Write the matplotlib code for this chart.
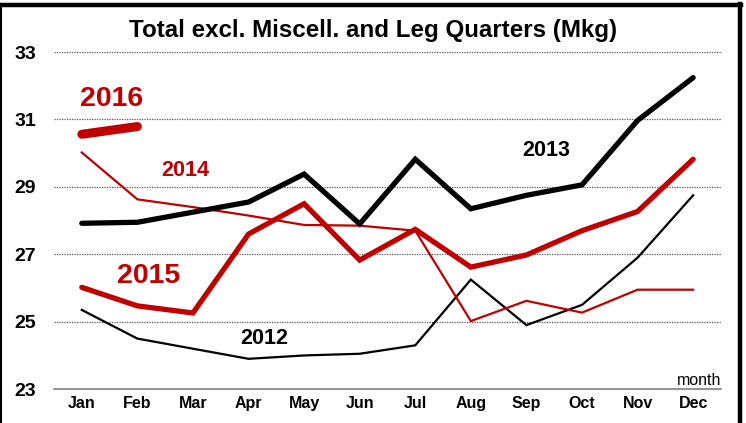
import matplotlib
matplotlib.use("Agg")
import matplotlib.pyplot as plt
from matplotlib.lines import Line2D

plt.rcParams['font.family'] = ['Liberation Sans', 'DejaVu Sans']

months = ["Jan", "Feb", "Mar", "Apr", "May", "Jun", "Jul", "Aug", "Sep", "Oct", "Nov", "Dec"]
y2012 = [25.35, 24.5, 24.2, 23.9, 24.0, 24.05, 24.3, 26.25, 24.9, 25.5, 26.9, 28.75]
y2013 = [27.92, 27.95, 28.25, 28.55, 29.38, 27.9, 29.82, 28.35, 28.75, 29.06, 30.97, 32.24]
y2014 = [30.02, 28.63, 28.4, 28.15, 27.87, 27.85, 27.7, 25.02, 25.62, 25.27, 25.95, 25.95]
y2015 = [26.02, 25.47, 25.26, 27.6, 28.5, 26.83, 27.74, 26.62, 26.98, 27.7, 28.27, 29.82]
y2016 = [30.56, 30.79]
yticks = [23, 25, 27, 29, 31, 33]

RED = "#c00000"

fig = plt.figure(figsize=(7.46, 4.23), dpi=100)
ax = fig.add_axes([0.0724, 0.080, 0.894, 0.797])

x = list(range(len(months)))
ax.plot(x, y2012, color="black", lw=1.6, solid_joinstyle="miter")
ax.plot(x, y2014, color=RED, lw=1.6, solid_joinstyle="miter")
ax.plot(x, y2013, color="black", lw=3.8, solid_capstyle="round", solid_joinstyle="miter")
ax.plot(x, y2015, color=RED, lw=3.8, solid_capstyle="round", solid_joinstyle="miter")
ax.plot(x[:len(y2016)], y2016, color=RED, lw=6.5, solid_capstyle="round")

ax.set_xlim(-0.5, 11.5)
ax.set_ylim(23, 33)
ax.set_xticks(x)
ax.set_xticklabels(months, fontsize=11.5, fontweight="bold")
ax.set_yticks(yticks)
ax.set_yticklabels([str(v) for v in yticks], fontsize=14, fontweight="bold")
ax.tick_params(axis="x", length=0, pad=5)
ax.tick_params(axis="y", length=0, pad=13)
for s in ["top", "right", "left"]:
    ax.spines[s].set_visible(False)
ax.spines["bottom"].set_color("#808080")
ax.spines["bottom"].set_linewidth(1.2)
for v in yticks[1:]:
    ax.axhline(v, color="#555555", lw=0.9, ls=(0, (1, 1)), zorder=0)

fig.text(0.5, 0.929, "Total excl. Miscell. and Leg Quarters (Mkg)",
         ha="center", va="center", fontsize=17.4, fontweight="bold")
ax.text(0.54, 31.6, "2016", color=RED, fontsize=20.5, fontweight="bold", ha="center", va="center")
ax.text(1.87, 29.5, "2014", color=RED, fontsize=15.5, fontweight="bold", ha="center", va="center")
ax.text(8.36, 30.07, "2013", color="black", fontsize=15.5, fontweight="bold", ha="center", va="center")
ax.text(1.2, 26.37, "2015", color=RED, fontsize=20.5, fontweight="bold", ha="center", va="center")
ax.text(3.28, 24.49, "2012", color="black", fontsize=15.5, fontweight="bold", ha="center", va="center")
ax.text(11.5, 23.02, "month", fontsize=11.5, ha="right", va="bottom")

# figure frame
fig.add_artist(Line2D([0, 0.993], [0.988, 0.988], color="black", lw=3.2, transform=fig.transFigure))
fig.add_artist(Line2D([0.9915, 0.9915], [0.0, 0.990], color="black", lw=3.2, transform=fig.transFigure))
fig.add_artist(Line2D([0.001, 0.001], [0.0, 0.990], color="black", lw=1.5, transform=fig.transFigure))

fig.savefig("out.png", dpi=100)
